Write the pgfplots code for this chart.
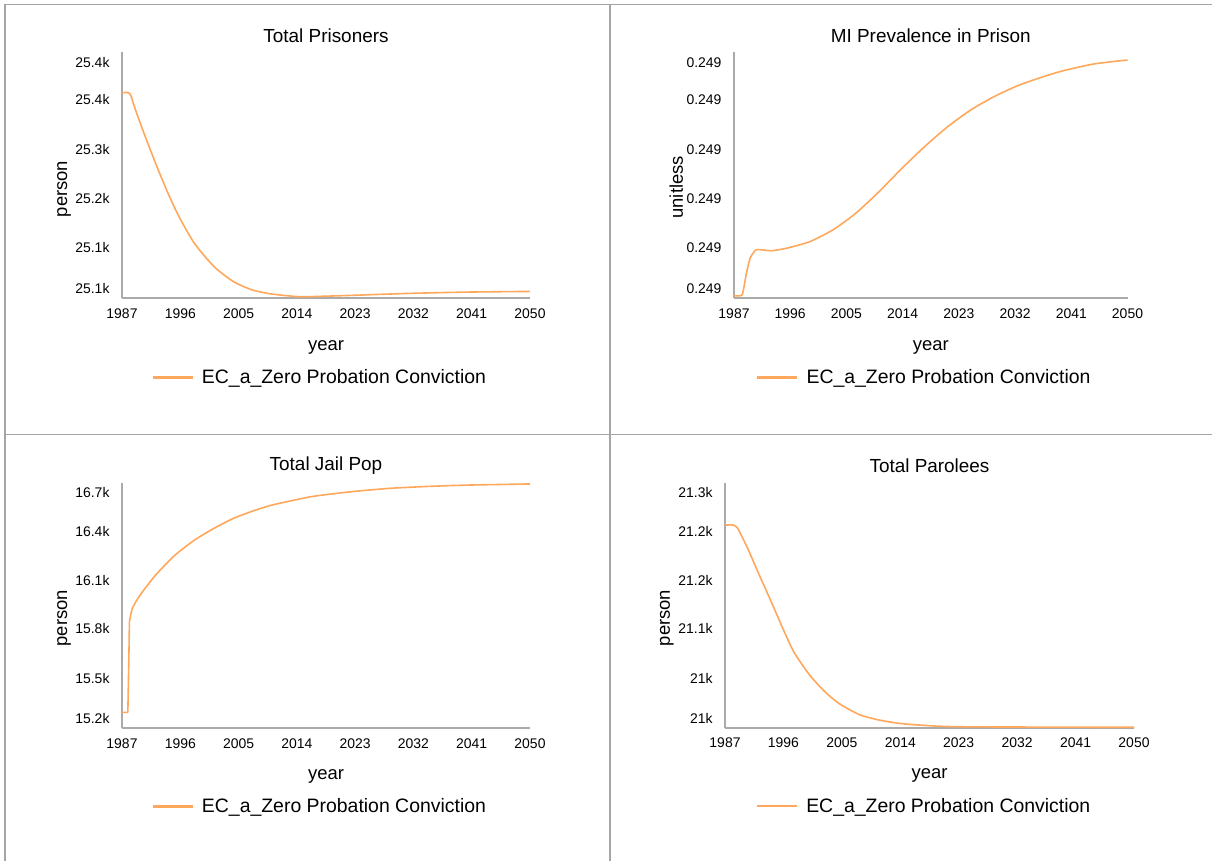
\documentclass[border=0pt]{standalone}
\usepackage{fontspec}
\setmainfont{Liberation Sans}
\usepackage{pgfplots}
\pgfplotsset{compat=1.18}
\definecolor{curve}{RGB}{255,168,92}
\definecolor{axgray}{RGB}{170,170,170}
\definecolor{framegray}{RGB}{165,165,165}
\pgfplotsset{
  panel/.style={
    scale only axis, clip=false,
    axis x line=bottom, axis y line=left,
    axis line style={-, draw=axgray, line width=2bp},
    enlargelimits=false,
    scaled y ticks=false, scaled x ticks=false,
    xmin=1987, xmax=2050,
    xtick={1987,1996,2005,2014,2023,2032,2041,2050},
    xticklabels={1987,1996,2005,2014,2023,2032,2041,2050},
    major tick length=0pt,
    tick style={draw=none},
    ticklabel style={font=\fontsize{14}{16}\selectfont, text=black},
    xticklabel style={yshift=-7bp},
    yticklabel style={xshift=-9bp},
    title style={font=\fontsize{19}{22}\selectfont, at={(axis description cs:0.5,1)}, anchor=center},
    xlabel={year},
    xlabel style={font=\fontsize{18.5}{22}\selectfont, at={(axis description cs:0.5,0)}, anchor=center},
    ylabel style={font=\fontsize{18.5}{22}\selectfont, anchor=center},
    legend style={draw=none, fill=none, font=\fontsize{19.5}{22}\selectfont, anchor=center,
      /tikz/every odd column/.append style={column sep=6bp}},
    legend image code/.code={\draw[draw=curve, line width=2.2bp] (0bp,0bp) -- (40bp,0bp);},
  },
  curvestyle/.style={draw=curve, line width=1.6bp, mark=none},
}
\pgfplotstableread{
year v
1987 25373
1988 25373
1988.4 25368
1988.9 25352
1990.4 25311
1992.2 25265
1994 25222
1995.8 25184
1998.2 25143
2001.2 25108
2004.2 25085
2007.2 25072
2010.2 25066
2014.4 25062
2019.3 25063
2025.3 25065
2031.3 25067
2040.3 25069
2050 25070
}\prisoners
\pgfplotstableread{
year v
1987 0.248018
1988.0 0.248018
1988.4 0.248038
1989.0 0.248200
1989.6 0.248320
1990.5 0.248384
1991.7 0.248384
1993 0.248378
1995.4 0.248398
1999.1 0.248450
2002.8 0.248544
2006.5 0.248678
2010.2 0.248850
2013.9 0.249038
2017.5 0.249210
2021.2 0.249370
2024.9 0.249504
2028.6 0.249610
2032.3 0.249696
2036 0.249762
2039.7 0.249818
2044.6 0.249872
2050 0.249904
}\miprev
\pgfplotstableread{
year v
1987 15292
1987.9 15292
1988.05 15600
1988.15 15847
}\jailA
\pgfplotstableread{
year v
1988.15 15847
1988.6 15930
1989.8 16011
1992.2 16134
1995.2 16256
1998.2 16348
2001.2 16420
2004.2 16481
2007.2 16526
2010.2 16563
2016.2 16614
2022.3 16644
2028.3 16665
2034.3 16677
2040.3 16685
2050 16692
}\jailB
\pgfplotstableread{
year v
1987 21228.8
1988.3 21228.8
1988.7 21227
1989.1 21222.7
1990.5 21200
1992.3 21167
1994.1 21135
1995.9 21102
1997.6 21073
2000 21045
2002.4 21024
2004.7 21009
2007.7 20996
2010.7 20989.5
2014.2 20985
2019.5 20982
2025.4 20981
2050 20980.5
}\parolees
\begin{document}
\begin{tikzpicture}
\path[use as bounding box] (0bp,0bp) rectangle (1212bp,861bp);
% frame lines
\draw[framegray, line width=1.5bp] (4bp,856.5bp) -- (1212bp,856.5bp);
\draw[framegray, line width=1.5bp] (4bp,426.7bp) -- (1212bp,426.7bp);
\draw[framegray, line width=2.5bp] (5bp,0bp) -- (5bp,857bp);
\draw[framegray, line width=2bp] (610bp,0bp) -- (610bp,857bp);

% Panel 1
\begin{axis}[panel, at={(122bp,563bp)}, anchor=south west,
  width=408bp, height=246bp,
  ymin=25060, ymax=25435,
  ytick={25073.7,25136.2,25211.7,25285.6,25361.8,25419},
  yticklabels={25.1k,25.1k,25.2k,25.3k,25.4k,25.4k},
  title={Total Prisoners}, title style={yshift=10.5bp},
  xlabel style={yshift=-49bp},
  ylabel={person}, ylabel style={at={(axis description cs:-0.142,0.443)}},
  legend style={at={(axis description cs:0.485,-0.323)}}]
\addplot[curvestyle, smooth, tension=0.4] table[x=year,y=v] {\prisoners};
\addlegendentry{EC\_a\_Zero Probation Conviction}
\end{axis}

% Panel 2
\begin{axis}[panel, at={(734bp,563bp)}, anchor=south west,
  width=393.5bp, height=246bp,
  ymin=0.248, ymax=0.249968,
  ytick={0.248072,0.2484,0.248796,0.249184,0.249584,0.249884},
  yticklabels={0.249,0.249,0.249,0.249,0.249,0.249},
  title={MI Prevalence in Prison}, title style={yshift=10.5bp},
  xlabel style={yshift=-49bp},
  ylabel={unitless}, ylabel style={at={(axis description cs:-0.147,0.45)}},
  legend style={at={(axis description cs:0.484,-0.323)}}]
\addplot[curvestyle, smooth, tension=0.4] table[x=year,y=v] {\miprev};
\addlegendentry{EC\_a\_Zero Probation Conviction}
\end{axis}

% Panel 3
\begin{axis}[panel, at={(122bp,132.7bp)}, anchor=south west,
  width=408bp, height=245bp,
  ymin=15194, ymax=16696,
  ytick={15255,15500.5,15807,16099,16399,16641},
  yticklabels={15.2k,15.5k,15.8k,16.1k,16.4k,16.7k},
  title={Total Jail Pop}, title style={yshift=12bp},
  xlabel style={yshift=-48bp},
  ylabel={person}, ylabel style={at={(axis description cs:-0.142,0.449)}},
  legend style={at={(axis description cs:0.485,-0.319)}}]
\addplot[curvestyle, line join=round] table[x=year,y=v] {\jailA};
\addlegendentry{EC\_a\_Zero Probation Conviction}
\addplot[curvestyle, smooth, tension=0.35, forget plot] table[x=year,y=v] {\jailB};
\end{axis}

% Panel 4
\begin{axis}[panel, at={(725bp,133.3bp)}, anchor=south west,
  width=409bp, height=244.4bp,
  ymin=20980, ymax=21280,
  ytick={20991.5,21040.6,21102,21160.4,21220.6,21269},
  yticklabels={21k,21k,21.1k,21.2k,21.2k,21.3k},
  title={Total Parolees}, title style={yshift=12bp},
  xlabel style={yshift=-48bp},
  ylabel={person}, ylabel style={at={(axis description cs:-0.142,0.449)}},
  legend style={at={(axis description cs:0.487,-0.322)}}]
\addplot[curvestyle, smooth, tension=0.4] table[x=year,y=v] {\parolees};
\addlegendentry{EC\_a\_Zero Probation Conviction}
\end{axis}
\end{tikzpicture}
\end{document}
